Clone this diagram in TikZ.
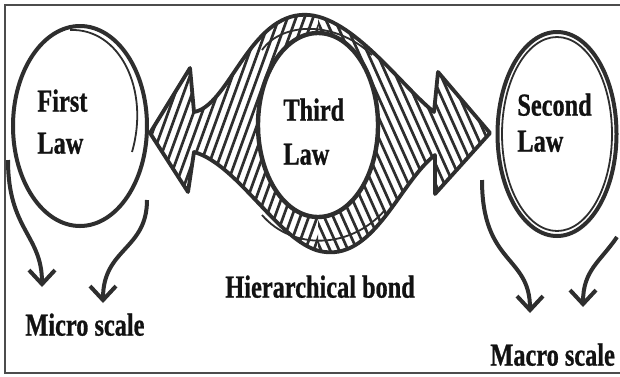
\documentclass[tikz,border=0pt]{standalone}
\usepackage{fontspec}
\newfontfamily\handfont[FakeStretch=0.76,FakeBold=0.8]{Liberation Serif}
\usetikzlibrary{shapes.geometric,arrows.meta}
\definecolor{ink}{HTML}{2E2E2E}
\definecolor{txt}{HTML}{121212}
\newcommand\bondoutline{(150,133) -- (190,68) -- (194,112)
  .. controls (228,106) and (248,20) .. (300,15)
  .. controls (348,10) and (400,85) .. (434,112)
  -- (438,72) -- (490,133) -- (435,194) -- (435,155)
  .. controls (400,182) and (375,258) .. (325,252)
  .. controls (282,248) and (240,165) .. (194,152)
  -- (188,192) -- cycle}
\begin{document}
\begin{tikzpicture}[x=0.5pt,y=-0.5pt,
  sketch/.style={draw=ink, line width=1.9pt, line join=round},
  thin sketch/.style={draw=ink, line width=0.9pt},
  hatch/.style={draw=ink, line width=1.35pt},
  lawcircle/.style={ellipse, draw=ink, line width=2pt, inner sep=0pt},
  lbl/.style={font=\handfont\bfseries\fontsize{16}{21}\selectfont, text=txt, inner sep=0pt, align=left, anchor=north west},
  scalearrow/.style={draw=ink, line width=2pt, -{Straight Barb[length=7pt,width=13pt]}}
]
\fill[white] (0,0) rectangle (620,376);
\useasboundingbox (0,0) rectangle (620,376);
\draw[gray!60!black, line width=1pt] (620,5) -- (5,5) -- (5,373) -- (620,373);

% law circles
\node[lawcircle, minimum width=67pt, minimum height=100pt] (first) at (80,126) {};
\node[lawcircle, minimum width=60pt, minimum height=92pt, line width=2.2pt] (third) at (318,125) {};
\node[lawcircle, minimum width=59.5pt, minimum height=102pt] (second) at (557,134) {};

% hatched bond arrow
\begin{scope}[even odd rule]
  \clip \bondoutline (318,125) ellipse (61 and 93);
  \begin{scope}
    \clip (0,0) rectangle (318,376);
    \foreach \i in {0,...,34} {
      \draw[hatch] (60+\i*8.5,270) -- ++(98,-270);
    }
  \end{scope}
  \begin{scope}
    \clip (318,0) rectangle (620,376);
    \foreach \i in {0,...,40} {
      \draw[hatch] (200+\i*9,0) -- ++(121,270);
    }
  \end{scope}
\end{scope}
\draw[sketch] \bondoutline;
\draw[thin sketch] (262,50) .. controls (282,22) and (335,20) .. (372,55);
\draw[thin sketch] (262,215) .. controls (292,250) and (350,250) .. (385,210);

% sketchy double strokes
\draw[thin sketch] (70,30) .. controls (120,28) and (150,90) .. (132,152);
\draw[thin sketch] (second.center) ellipse (55 and 97);

% labels
\node[lbl] (firstlbl) at (37,89) {First\\Law};
\node[lbl, font=\handfont\bfseries\fontsize{16}{22}\selectfont] (thirdlbl) at (283,98) {Third\\Law};
\node[lbl, font=\handfont\bfseries\fontsize{16}{18}\selectfont] (secondlbl) at (517,93) {Second\\Law};
\node[lbl] (bondlbl) at (225,275) {Hierarchical bond};
\node[lbl] (microlbl) at (25,313) {Micro scale};
\node[lbl] (macrolbl) at (490,343) {Macro scale};

% scale arrows
\coordinate (m1s) at (8,160);   \coordinate (m1e) at (42,287);
\coordinate (m2s) at (147,200); \coordinate (m2e) at (103,303);
\coordinate (M1s) at (482,180); \coordinate (M1e) at (530,313);
\coordinate (M2s) at (617,237); \coordinate (M2e) at (583,307);
\draw[scalearrow] (m1s) .. controls (8,230) and (42,235) .. (m1e);
\draw[scalearrow] (m2s) .. controls (147,250) and (103,248) .. (m2e);
\draw[scalearrow] (M1s) .. controls (482,265) and (530,255) .. (M1e);
\draw[scalearrow] (M2s) .. controls (600,262) and (583,270) .. (M2e);
\end{tikzpicture}
\end{document}
